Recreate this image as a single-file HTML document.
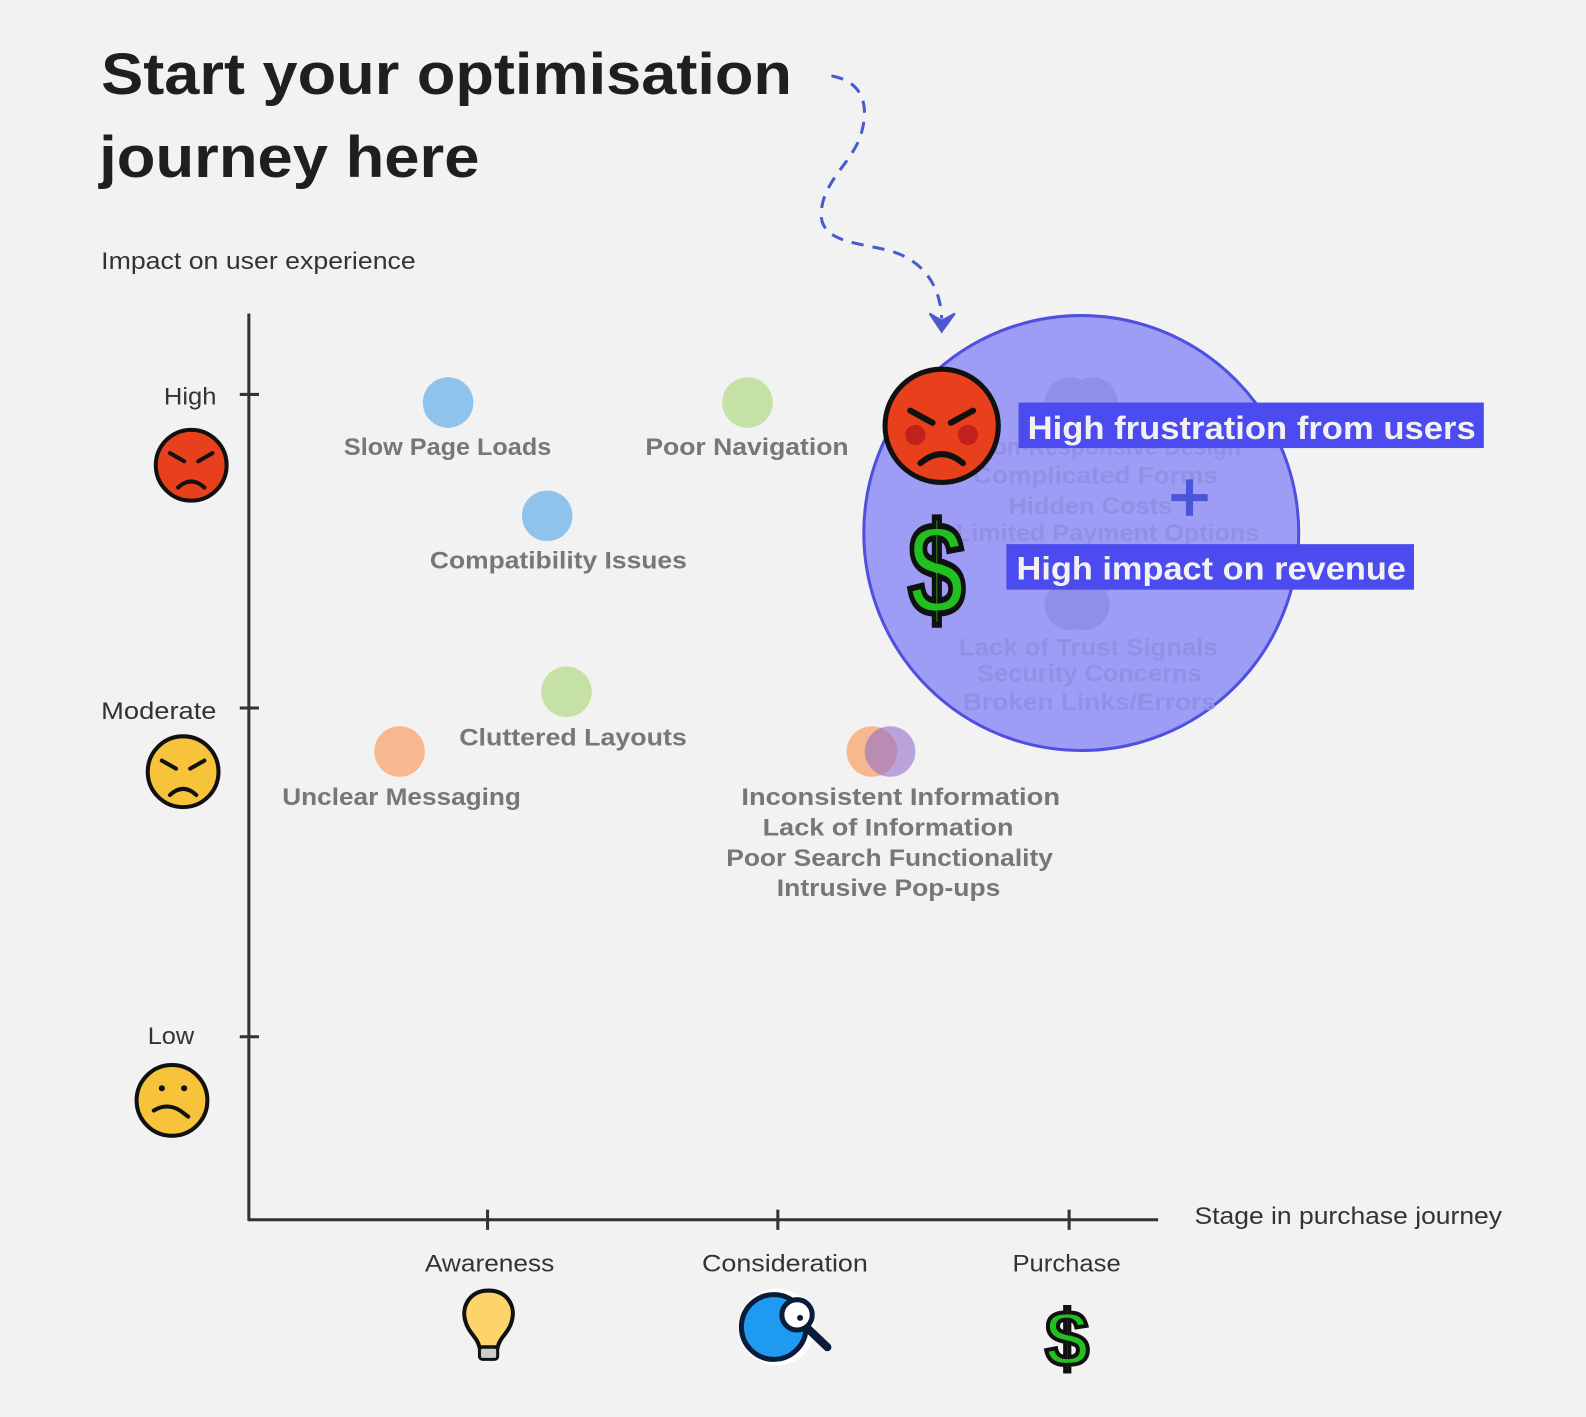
<!DOCTYPE html>
<html><head><meta charset="utf-8"><style>html,body{margin:0;padding:0;background:#f2f2f2}svg{display:block}</style></head><body>
<svg width="1586" height="1417" viewBox="0 0 1568 1401" xmlns="http://www.w3.org/2000/svg" font-family="'Liberation Sans', sans-serif">
<rect width="1568" height="1401" fill="#f2f2f2"/>
<text x="100" y="93" font-size="58" font-weight="bold" fill="#1f1f1f" textLength="683" lengthAdjust="spacingAndGlyphs">Start your optimisation</text>
<text x="98" y="175" font-size="58" font-weight="bold" fill="#1f1f1f" textLength="376" lengthAdjust="spacingAndGlyphs">journey here</text>
<text x="100" y="266" font-size="24" fill="#333" textLength="311" lengthAdjust="spacingAndGlyphs">Impact on user experience</text>
<path d="M822 75 C850 80 860 100 852 130 C845 160 810 180 812 215 C815 240 850 240 880 248 C915 258 930 285 931 315" fill="none" stroke="#4a5bd0" stroke-width="3" stroke-dasharray="12 9"/>
<path d="M919 310 L931 328 L944 310 L931 317 Z" fill="#4a5bd0" stroke="#4a5bd0" stroke-width="2"/>
<g stroke="#333" stroke-width="3">
<line x1="246" y1="310" x2="246" y2="1207"/><line x1="245" y1="1206" x2="1145" y2="1206"/>
<line x1="237" y1="390" x2="256" y2="390"/><line x1="237" y1="700" x2="256" y2="700"/><line x1="237" y1="1025" x2="256" y2="1025"/>
<line x1="482" y1="1196" x2="482" y2="1216"/><line x1="769" y1="1196" x2="769" y2="1216"/><line x1="1057" y1="1196" x2="1057" y2="1216"/>
</g>
<g font-size="24" fill="#333" lengthAdjust="spacingAndGlyphs">
<text x="162" y="400" textLength="52" lengthAdjust="spacingAndGlyphs">High</text>
<text x="100" y="711" textLength="114" lengthAdjust="spacingAndGlyphs">Moderate</text>
<text x="146" y="1032" textLength="46" lengthAdjust="spacingAndGlyphs">Low</text>
<text x="420" y="1257" textLength="128" lengthAdjust="spacingAndGlyphs">Awareness</text>
<text x="694" y="1257" textLength="164" lengthAdjust="spacingAndGlyphs">Consideration</text>
<text x="1001" y="1257" textLength="107" lengthAdjust="spacingAndGlyphs">Purchase</text>
<text x="1181" y="1210" textLength="304" lengthAdjust="spacingAndGlyphs">Stage in purchase journey</text>
</g>
<g stroke="#111" stroke-width="4">
<circle cx="189" cy="460" r="35" fill="#e8401c"/>
<circle cx="181" cy="763" r="35" fill="#f6c33a"/>
<circle cx="170" cy="1088" r="35" fill="#f6c33a"/>
</g>
<g fill="none" stroke="#111" stroke-width="4" stroke-linecap="round">
<path d="M168 448 L182 456 M210 448 L196 456 M176 482 Q189 470 202 482"/>
<path d="M160 752 L174 760 M202 752 L188 760 M168 786 Q181 774 194 786"/>
<path d="M152 1098 Q165 1090 178 1098 L186 1104"/>
</g>
<circle cx="160" cy="1076" r="3" fill="#111"/><circle cx="182" cy="1076" r="3" fill="#111"/>
<path d="M483 1276 C464 1276 456 1292 460 1306 C463 1318 472 1322 474 1332 L492 1332 C494 1322 503 1318 506 1306 C510 1292 502 1276 483 1276 Z" fill="#fcd46b" stroke="#111" stroke-width="4"/>
<rect x="474" y="1332" width="18" height="12" rx="3" fill="#ccc" stroke="#111" stroke-width="3"/>
<circle cx="768" cy="1312" r="38" fill="#fff"/>
<circle cx="765" cy="1312" r="32" fill="#1e9af0" stroke="#0b1b3a" stroke-width="5"/>
<line x1="797" y1="1312" x2="818" y2="1332" stroke="#0b1b3a" stroke-width="8" stroke-linecap="round"/>
<circle cx="788" cy="1300" r="15" fill="#fff" stroke="#0b1b3a" stroke-width="5"/>
<circle cx="791" cy="1303" r="3" fill="#0b1b3a"/>
<text x="1055" y="1350" font-size="78" font-weight="bold" text-anchor="middle" fill="#22c01e" stroke="#111" stroke-width="4">$</text>
<circle cx="443" cy="398" r="25" fill="#8fc3ec"/>
<circle cx="739" cy="398" r="25" fill="#c5e1a5"/>
<circle cx="541" cy="510" r="25" fill="#8fc3ec"/>
<circle cx="560" cy="684" r="25" fill="#c5e1a5"/>
<circle cx="395" cy="743" r="25" fill="#f7b78f"/>
<circle cx="862" cy="743" r="25" fill="#f7b78f"/>
<circle cx="880" cy="743" r="25" fill="#9270c8" fill-opacity="0.6"/>
<g font-size="24" font-weight="bold" fill="#777">
<text x="340" y="450" textLength="205" lengthAdjust="spacingAndGlyphs">Slow Page Loads</text>
<text x="638" y="450" textLength="201" lengthAdjust="spacingAndGlyphs">Poor Navigation</text>
<text x="425" y="562" textLength="254" lengthAdjust="spacingAndGlyphs">Compatibility Issues</text>
<text x="454" y="737" textLength="225" lengthAdjust="spacingAndGlyphs">Cluttered Layouts</text>
<text x="279" y="796" textLength="236" lengthAdjust="spacingAndGlyphs">Unclear Messaging</text>
<text x="733" y="796" textLength="315" lengthAdjust="spacingAndGlyphs">Inconsistent Information</text>
<text x="754" y="826" textLength="248" lengthAdjust="spacingAndGlyphs">Lack of Information</text>
<text x="718" y="856" textLength="323" lengthAdjust="spacingAndGlyphs">Poor Search Functionality</text>
<text x="768" y="886" textLength="221" lengthAdjust="spacingAndGlyphs">Intrusive Pop-ups</text>
</g>
<circle cx="1069" cy="527" r="215" fill="#9d9df5" stroke="#4f4fe0" stroke-width="3"/>
<g fill="#8f8ee9">
<circle cx="1058" cy="398" r="25"/><circle cx="1080" cy="398" r="25"/>
<circle cx="1058" cy="598" r="25"/><circle cx="1072" cy="598" r="25"/>
</g>
<g font-size="24" font-weight="bold" fill="#9290e6">
<text x="965" y="450" textLength="262" lengthAdjust="spacingAndGlyphs">Non-Responsive Design</text>
<text x="962" y="478" textLength="242" lengthAdjust="spacingAndGlyphs">Complicated Forms</text>
<text x="997" y="508" textLength="162" lengthAdjust="spacingAndGlyphs">Hidden Costs</text>
<text x="945" y="535" textLength="300" lengthAdjust="spacingAndGlyphs">Limited Payment Options</text>
<text x="948" y="648" textLength="256" lengthAdjust="spacingAndGlyphs">Lack of Trust Signals</text>
<text x="966" y="674" textLength="222" lengthAdjust="spacingAndGlyphs">Security Concerns</text>
<text x="952" y="702" textLength="250" lengthAdjust="spacingAndGlyphs">Broken Links/Errors</text>
</g>
<path d="M1176 474 V510 M1158 492 H1194" stroke="#4a55d8" stroke-width="7"/>
<rect x="1007" y="398" width="460" height="45" fill="#4b4bef"/>
<text x="1016" y="434" font-size="32" font-weight="bold" fill="#f2f2f2" textLength="443" lengthAdjust="spacingAndGlyphs">High frustration from users</text>
<rect x="995" y="538" width="403" height="45" fill="#4b4bef"/>
<text x="1005" y="573" font-size="32" font-weight="bold" fill="#f2f2f2" textLength="385" lengthAdjust="spacingAndGlyphs">High impact on revenue</text>
<circle cx="931" cy="421" r="56" fill="#e8401c" stroke="#111" stroke-width="5"/>
<circle cx="905" cy="430" r="10" fill="#c2201a"/><circle cx="957" cy="430" r="10" fill="#c2201a"/>
<path d="M900 406 L922 418 M962 406 L940 418 M910 458 Q931 440 952 458" fill="none" stroke="#111" stroke-width="6" stroke-linecap="round"/>
<text x="926" y="608" font-size="130" font-weight="bold" text-anchor="middle" fill="#22c01e" stroke="#111" stroke-width="6" textLength="56" lengthAdjust="spacingAndGlyphs">$</text>
</svg>
</body></html>
